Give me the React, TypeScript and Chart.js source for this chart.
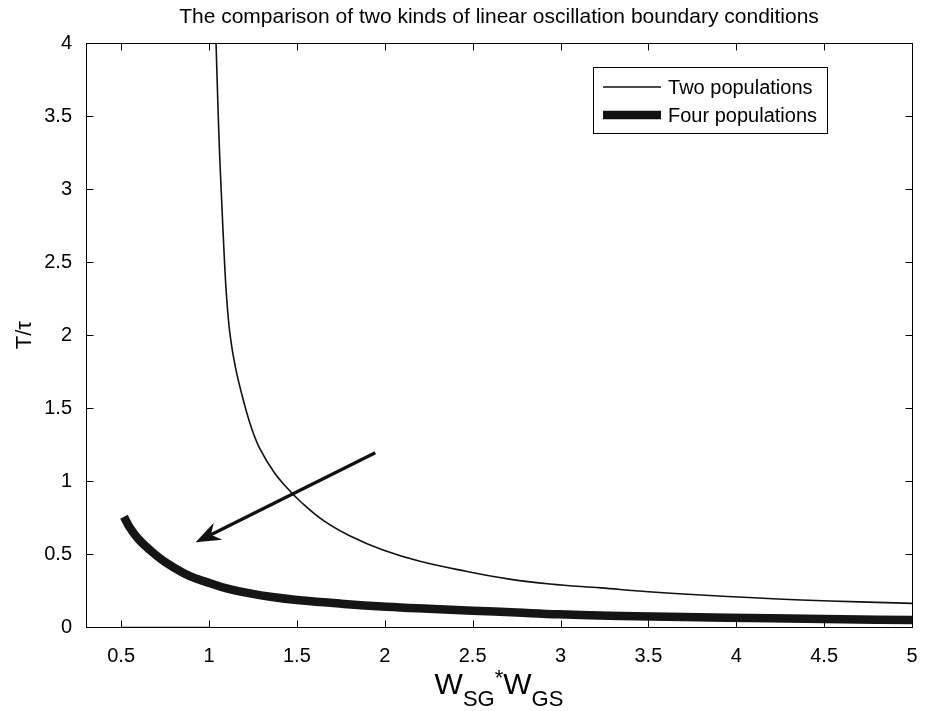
import React, { useEffect, useRef } from "react";
import { Chart, registerables } from "chart.js";

Chart.register(...registerables);

const chartTitle = "The comparison of two kinds of linear oscillation boundary conditions";
const yAxisTitle = "T/\u03c4";
const xAxisParts = ["W", "SG", "*", "W", "GS"];
const seriesLabels = ["Two populations", "Four populations"];

const xTicks = [0.5, 1, 1.5, 2, 2.5, 3, 3.5, 4, 4.5, 5];
const yTicks = [0, 0.5, 1, 1.5, 2, 2.5, 3, 3.5, 4];

const twoX = [1.04, 1.05, 1.06, 1.072, 1.085, 1.1, 1.12, 1.15, 1.195, 1.24, 1.29, 1.37, 1.45, 1.52, 1.65, 1.8, 1.99, 2.2, 2.47, 2.7, 2.94, 3.23, 3.5, 3.8, 4.1, 4.37, 4.7, 5.0];
const twoY = [4.0, 3.6, 3.25, 2.92, 2.58, 2.26, 2.0, 1.78, 1.555, 1.37, 1.22, 1.06, 0.945, 0.86, 0.73, 0.625, 0.527, 0.45, 0.38, 0.33, 0.295, 0.268, 0.242, 0.219, 0.2, 0.185, 0.172, 0.162];

const fourX = [0.516, 0.55, 0.6, 0.664, 0.75, 0.854, 0.93, 1.006, 1.1, 1.234, 1.36, 1.5, 1.75, 2.01, 2.25, 2.5, 2.75, 2.99, 3.34, 3.7, 4.2, 4.6, 5.0];
const fourY = [0.755, 0.68, 0.6, 0.527, 0.445, 0.37, 0.33, 0.3, 0.265, 0.23, 0.205, 0.185, 0.16, 0.139, 0.125, 0.112, 0.099, 0.087, 0.076, 0.068, 0.06, 0.053, 0.048];

const zeroX = [0.5, 1.0];
const zeroY = [0, 0];

const arrowFrom = [1.946, 1.194];
const arrowTo = [0.924, 0.58];

const FONT = "'Liberation Sans', Arial, Helvetica, sans-serif";

const toPoints = (xs: number[], ys: number[]) => xs.map((x, i) => ({ x, y: ys[i] }));

const decorPlugin = {
  id: "decor",
  afterDraw(chart: any) {
    const ctx = chart.ctx as CanvasRenderingContext2D;
    const area = chart.chartArea;
    const xs = chart.scales.x;
    const ys = chart.scales.y;
    ctx.save();

    // arrow
    const x0 = xs.getPixelForValue(arrowFrom[0]);
    const y0 = ys.getPixelForValue(arrowFrom[1]);
    const x1 = xs.getPixelForValue(arrowTo[0]);
    const y1 = ys.getPixelForValue(arrowTo[1]);
    const ang = Math.atan2(y1 - y0, x1 - x0);
    const headLen = 25;
    const headW = 9.5;
    const back = 17;
    const ux = Math.cos(ang), uy = Math.sin(ang);
    const px = -uy, py = ux;
    ctx.strokeStyle = "#111";
    ctx.fillStyle = "#111";
    ctx.lineWidth = 3.2;
    ctx.lineCap = "butt";
    ctx.beginPath();
    ctx.moveTo(x0, y0);
    ctx.lineTo(x1 - ux * back, y1 - uy * back);
    ctx.stroke();
    ctx.beginPath();
    ctx.moveTo(x1, y1);
    ctx.lineTo(x1 - ux * headLen + px * headW, y1 - uy * headLen + py * headW);
    ctx.lineTo(x1 - ux * back, y1 - uy * back);
    ctx.lineTo(x1 - ux * headLen - px * headW, y1 - uy * headLen - py * headW);
    ctx.closePath();
    ctx.fill();

    // frame
    ctx.strokeStyle = "#000";
    ctx.lineWidth = 1;
    const L = Math.round(area.left) + 0.5;
    const R = Math.round(area.right) + 0.5;
    const T = Math.round(area.top) + 0.5;
    const B = Math.round(area.bottom) + 0.5;
    ctx.strokeRect(L, T, R - L, B - T);
    const tl = 7;
    ctx.beginPath();
    xTicks.forEach((v) => {
      const p = Math.round(xs.getPixelForValue(v)) + 0.5;
      ctx.moveTo(p, B);
      ctx.lineTo(p, B - tl);
      ctx.moveTo(p, T);
      ctx.lineTo(p, T + tl);
    });
    yTicks.forEach((v) => {
      const p = Math.round(ys.getPixelForValue(v)) + 0.5;
      ctx.moveTo(L, p);
      ctx.lineTo(L + tl, p);
      ctx.moveTo(R, p);
      ctx.lineTo(R - tl, p);
    });
    ctx.stroke();

    // legend
    ctx.font = `20px ${FONT}`;
    ctx.textBaseline = "middle";
    ctx.textAlign = "left";
    const widths = seriesLabels.map((s) => ctx.measureText(s).width);
    const tw = Math.max(...widths);
    const boxR = 827;
    const boxT = 67;
    const boxB = 133;
    const textX = boxR - 10 - tw;
    const lineEnd = textX - 7;
    const lineStart = lineEnd - 58;
    const boxL = lineStart - 10;
    ctx.fillStyle = "#fff";
    ctx.fillRect(boxL, boxT, boxR - boxL, boxB - boxT);
    ctx.strokeStyle = "#000";
    ctx.lineWidth = 1;
    ctx.strokeRect(Math.round(boxL) + 0.5, boxT + 0.5, Math.round(boxR - boxL), boxB - boxT);
    const rows = [87, 115];
    const lws = [1.6, 8.5];
    rows.forEach((ry, i) => {
      ctx.strokeStyle = "#111";
      ctx.lineWidth = lws[i];
      ctx.beginPath();
      ctx.moveTo(lineStart, ry);
      ctx.lineTo(lineEnd, ry);
      ctx.stroke();
      ctx.fillStyle = "#000";
      ctx.fillText(seriesLabels[i], textX, ry + 1);
    });

    // x axis title with subscripts
    const big = `30px ${FONT}`;
    const small = `22px ${FONT}`;
    const baseY = 694;
    const subY = 706;
    const supY = 685;
    const parts = [
      { t: xAxisParts[0], f: big, y: baseY },
      { t: xAxisParts[1], f: small, y: subY },
      { t: xAxisParts[2], f: small, y: supY },
      { t: xAxisParts[3], f: big, y: baseY },
      { t: xAxisParts[4], f: small, y: subY },
    ];
    let total = 0;
    parts.forEach((p) => {
      ctx.font = p.f;
      total += ctx.measureText(p.t).width;
    });
    let cx = (area.left + area.right) / 2 - total / 2;
    ctx.textBaseline = "alphabetic";
    ctx.fillStyle = "#000";
    parts.forEach((p) => {
      ctx.font = p.f;
      ctx.fillText(p.t, cx, p.y);
      cx += ctx.measureText(p.t).width;
    });

    ctx.restore();
  },
};

export default function App() {
  const ref = useRef<HTMLCanvasElement | null>(null);
  useEffect(() => {
    if (!ref.current) return;
    const chart = new Chart(ref.current, {
      type: "line",
      data: {
        datasets: [
          {
            label: seriesLabels[0],
            data: toPoints(twoX, twoY),
            borderColor: "#111",
            borderWidth: 1.6,
            pointRadius: 0,
            tension: 0.4,
            fill: false,
          },
          {
            label: seriesLabels[1],
            data: toPoints(fourX, fourY),
            borderColor: "#151515",
            borderWidth: 8.5,
            borderCapStyle: "butt",
            pointRadius: 0,
            tension: 0.4,
            fill: false,
          },
          {
            label: "zero",
            data: toPoints(zeroX, zeroY),
            borderColor: "#888",
            borderWidth: 1,
            pointRadius: 0,
            fill: false,
            clip: 2,
          },
        ],
      },
      options: {
        responsive: false,
        animation: false,
        events: [],
        layout: { padding: { left: 0, right: 17, top: 0, bottom: 0 } },
        plugins: {
          legend: { display: false },
          tooltip: { enabled: false },
          title: {
            display: true,
            text: chartTitle,
            fullSize: false,
            color: "#000",
            font: { family: FONT, size: 21, weight: "normal" },
            padding: { top: 5, bottom: 13 },
          },
        },
        scales: {
          x: {
            type: "linear",
            min: 0.3,
            max: 5,
            grid: { display: false },
            border: { display: false },
            afterBuildTicks: (s: any) => {
              s.ticks = xTicks.map((v) => ({ value: v }));
            },
            afterFit: (s: any) => {
              s.height = 84;
            },
            ticks: {
              color: "#000",
              padding: 9,
              maxRotation: 0,
              autoSkip: false,
              font: { family: FONT, size: 20 },
              callback: (v: any) => String(v),
            },
          },
          y: {
            type: "linear",
            min: 0,
            max: 4,
            grid: { display: false },
            border: { display: false },
            afterBuildTicks: (s: any) => {
              s.ticks = yTicks.map((v) => ({ value: v }));
            },
            afterFit: (s: any) => {
              s.width = 86;
            },
            title: {
              display: true,
              text: yAxisTitle,
              color: "#000",
              font: { family: FONT, size: 22 },
              padding: { top: 12, bottom: 0 },
            },
            ticks: {
              color: "#000",
              padding: 6,
              autoSkip: false,
              font: { family: FONT, size: 20 },
              callback: (v: any) => String(v),
            },
          },
        },
      },
      plugins: [decorPlugin],
    } as any);
    return () => chart.destroy();
  }, []);
  return (
    <div style={{ position: "fixed", left: 0, top: 0, width: 929, height: 711, background: "#fff" }}>
      <canvas ref={ref} width={929} height={711} style={{ display: "block", width: 929, height: 711 }} />
    </div>
  );
}
